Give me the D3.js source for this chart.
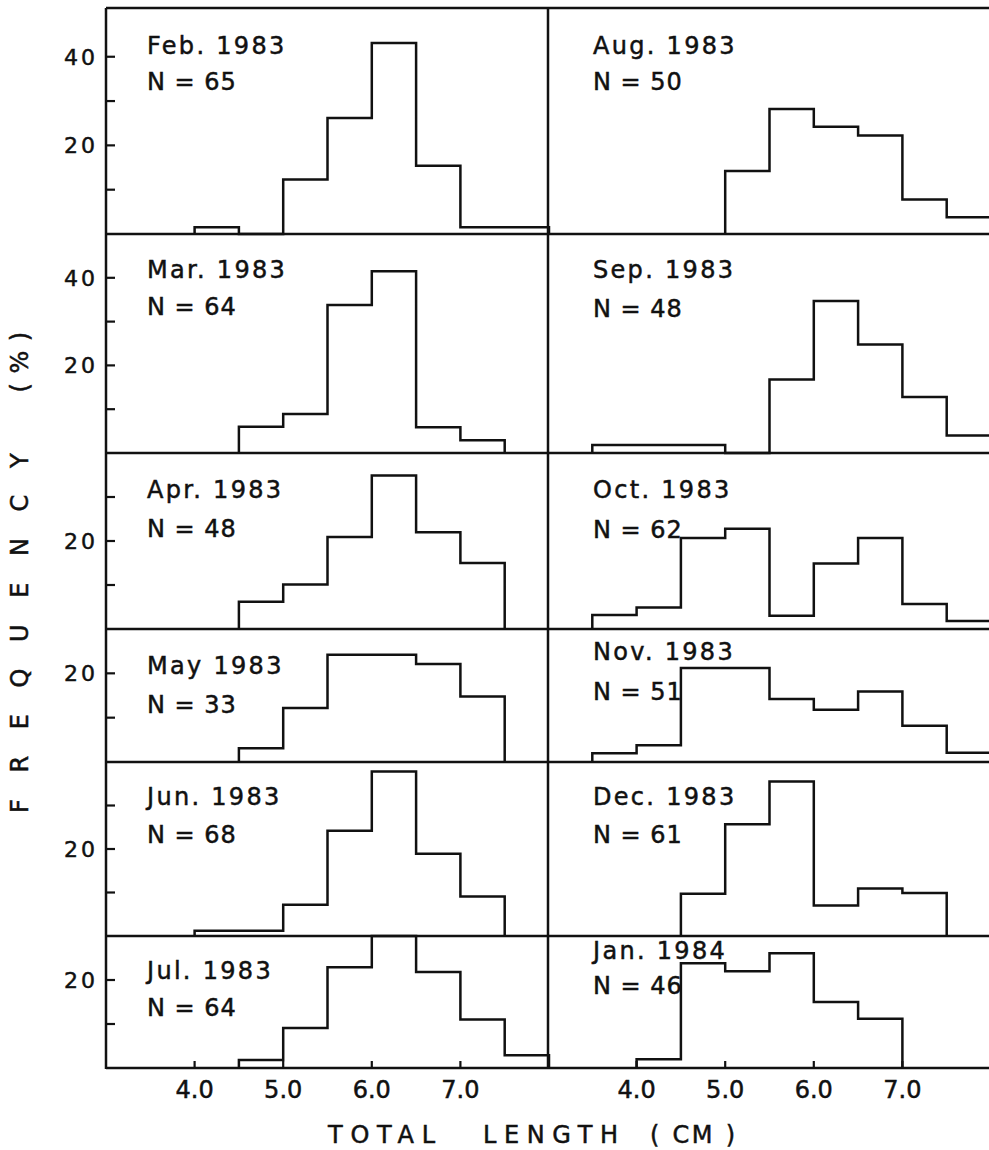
<!DOCTYPE html>
<html>
<head>
<meta charset="utf-8">
<script src="https://cdn.jsdelivr.net/npm/d3@7"></script>
<style>
  body { margin: 0; background: #fff; }
  text { font-family: "DejaVu Sans", sans-serif; fill: #111; stroke: #111; stroke-width: 0.5; }
</style>
</head>
<body>
<script>
// bin starts (cm), each bin is 0.5 cm wide
var binStarts = [3.0, 3.5, 4.0, 4.5, 5.0, 5.5, 6.0, 6.5, 7.0, 7.5];
var xTicks = [4, 5, 6, 7];

var months = ["Feb. 1983", "Mar. 1983", "Apr. 1983", "May 1983", "Jun. 1983", "Jul. 1983",
              "Aug. 1983", "Sep. 1983", "Oct. 1983", "Nov. 1983", "Dec. 1983", "Jan. 1984"];
var sampleN = [65, 64, 48, 33, 68, 64, 50, 48, 62, 51, 61, 46];

// frequency (%) per bin
var feb83 = [0, 0, 1.5, 0, 12.3, 26.2, 43.1, 15.4, 1.5, 1.5];
var mar83 = [0, 0, 0, 6.0, 8.9, 33.8, 41.5, 5.9, 2.9, 0];
var apr83 = [0, 0, 0, 6.2, 10.1, 20.9, 34.9, 22.0, 15.0, 0];
var may83 = [0, 0, 0, 3.1, 12.2, 24.2, 24.2, 22.1, 14.8, 0];
var jun83 = [0, 0, 1.2, 1.2, 7.2, 24.2, 37.8, 18.9, 9.1, 0];
var jul83 = [0, 0, 0, 1.8, 9.1, 22.9, 31.0, 21.8, 11.0, 2.9];
var aug83 = [0, 0, 0, 0, 14.2, 28.2, 24.2, 22.2, 7.8, 3.8];
var sep83 = [0, 1.8, 1.8, 1.8, 0, 16.8, 34.7, 24.8, 12.8, 4.0];
var oct83 = [0, 3.2, 4.9, 20.7, 22.8, 3.0, 14.9, 20.7, 5.7, 1.8];
var nov83 = [0, 2.0, 3.8, 21.2, 21.2, 14.2, 11.8, 15.9, 8.2, 2.1];
var dec83 = [0, 0, 0, 9.7, 25.7, 35.5, 7.0, 10.9, 9.9, 0];
var jan84 = [0, 0, 2.0, 23.8, 22.0, 26.1, 15.0, 11.2, 0, 0];

var allSeries = [feb83, mar83, apr83, may83, jun83, jul83,
                 aug83, sep83, oct83, nov83, dec83, jan84];

// top of the y axis for each row (%)
var rowMax = [51, 50, 40, 30, 40, 30];

// layout (pixels)
var W = 989, H = 1150;
var frameTop = 8;
var rowBottoms = [234, 453, 629, 762, 936, 1068];
var colLeft = [106, 548];
var colWidth = 443;
// baseline of month label / N label below row top
var monthDy = [46, 44, 45, 45, 43, 43, 46, 44, 45, 31, 43, 23];
var nDy = [82, 81, 84, 84, 81, 80, 82, 83, 85, 71, 81, 58];

function drawChart() {
    var svg = d3.select("body")
        .append("svg")
        .attr("width", W)
        .attr("height", H);

    var xLeft = d3.scaleLinear().domain([3, 8]).range([colLeft[0], colLeft[0] + colWidth]);
    var xRight = d3.scaleLinear().domain([3, 8]).range([colLeft[1], colLeft[1] + colWidth]);
    var xs = [xLeft, xRight];

    var line = d3.line();

    for (var p = 0; p < allSeries.length; p++) {
        var col = p < 6 ? 0 : 1;
        var row = p % 6;
        var top = row === 0 ? frameTop : rowBottoms[row - 1];
        var y = d3.scaleLinear()
            .domain([0, rowMax[row]])
            .range([rowBottoms[row], top])
            .clamp(true);
        var x = xs[col];
        var vals = allSeries[p];

        // step outline of the histogram
        var first = vals.findIndex(function (v) { return v > 0; });
        var last = vals.length - 1;
        while (vals[last] === 0) last--;
        var pts = [[binStarts[first], 0]];
        for (var i = first; i <= last; i++) {
            pts.push([binStarts[i], vals[i]]);
            pts.push([binStarts[i] + 0.5, vals[i]]);
        }
        pts.push([binStarts[last] + 0.5, 0]);

        svg.append("path")
            .attr("d", line.x(function (d) { return x(d[0]); }).y(function (d) { return y(d[1]); })(pts))
            .attr("fill", "none")
            .attr("stroke", "#111")
            .attr("stroke-width", 2.5)
            .attr("stroke-linejoin", "miter");

        // labels
        svg.append("text")
            .attr("x", x(3) + (col === 0 ? 41 : 45))
            .attr("y", top + monthDy[p])
            .attr("font-size", 24)
            .attr("letter-spacing", 2.3)
            .text(months[p]);
        svg.append("text")
            .attr("x", x(3) + (col === 0 ? 41 : 45))
            .attr("y", top + nDy[p])
            .attr("font-size", 24)
            .attr("letter-spacing", 1)
            .style("white-space", "pre")
            .text("N = " + sampleN[p]);

        // y ticks only on the left axis
        if (col === 0) {
            var ticks = d3.range(10, rowMax[row] - 2, 10);
            svg.selectAll(null)
                .data(ticks).enter()
                .append("line")
                .attr("x1", colLeft[0])
                .attr("x2", colLeft[0] + 9)
                .attr("y1", function (d) { return y(d); })
                .attr("y2", function (d) { return y(d); })
                .attr("stroke", "#111")
                .attr("stroke-width", 2.2);
            svg.selectAll(null)
                .data(ticks.filter(function (d) { return d % 20 === 0; })).enter()
                .append("text")
                .attr("x", colLeft[0] - 8)
                .attr("y", function (d) { return y(d); })
                .attr("dy", "0.36em")
                .attr("text-anchor", "end")
                .attr("font-size", 22)
                .attr("letter-spacing", 3)
                .text(function (d) { return d; });
        }
    }

    // frame: left axis, middle divider, top, row separators, bottom
    var frame = svg.append("g")
        .attr("stroke", "#111")
        .attr("stroke-width", 2.5)
        .attr("fill", "none");
    frame.append("line")
        .attr("x1", colLeft[0]).attr("x2", colLeft[0])
        .attr("y1", frameTop).attr("y2", rowBottoms[5] + 1);
    frame.append("line")
        .attr("x1", colLeft[1]).attr("x2", colLeft[1])
        .attr("y1", frameTop).attr("y2", rowBottoms[5] + 1);
    frame.selectAll(null)
        .data([frameTop].concat(rowBottoms)).enter()
        .append("line")
        .attr("x1", colLeft[0]).attr("x2", W)
        .attr("y1", function (d) { return d; })
        .attr("y2", function (d) { return d; });

    // x ticks + labels on both columns
    xs.forEach(function (x) {
        svg.selectAll(null)
            .data(xTicks).enter()
            .append("line")
            .attr("x1", function (d) { return x(d); })
            .attr("x2", function (d) { return x(d); })
            .attr("y1", rowBottoms[5])
            .attr("y2", rowBottoms[5] - 7)
            .attr("stroke", "#111")
            .attr("stroke-width", 2.2);
        svg.selectAll(null)
            .data(xTicks).enter()
            .append("text")
            .attr("x", function (d) { return x(d); })
            .attr("y", 1098)
            .attr("text-anchor", "middle")
            .attr("font-size", 24)
            .text(function (d) { return d.toFixed(1); });
    });

    // axis titles
    var xt = svg.append("text")
        .attr("y", 1143)
        .attr("font-size", 24);
    xt.append("tspan").attr("x", 328).attr("textLength", 107).text("TOTAL");
    xt.append("tspan").attr("x", 483).attr("textLength", 135).text("LENGTH");
    xt.append("tspan").attr("x", 650).attr("textLength", 85).style("white-space", "pre").text("( CM )");

    svg.append("text")
        .attr("transform", "translate(28,813) rotate(-90)")
        .attr("font-size", 24)
        .attr("letter-spacing", 9.5)
        .style("white-space", "pre")
        .text("F R E Q U E N C Y   (%)");
}

drawChart();
</script>
</body>
</html>
